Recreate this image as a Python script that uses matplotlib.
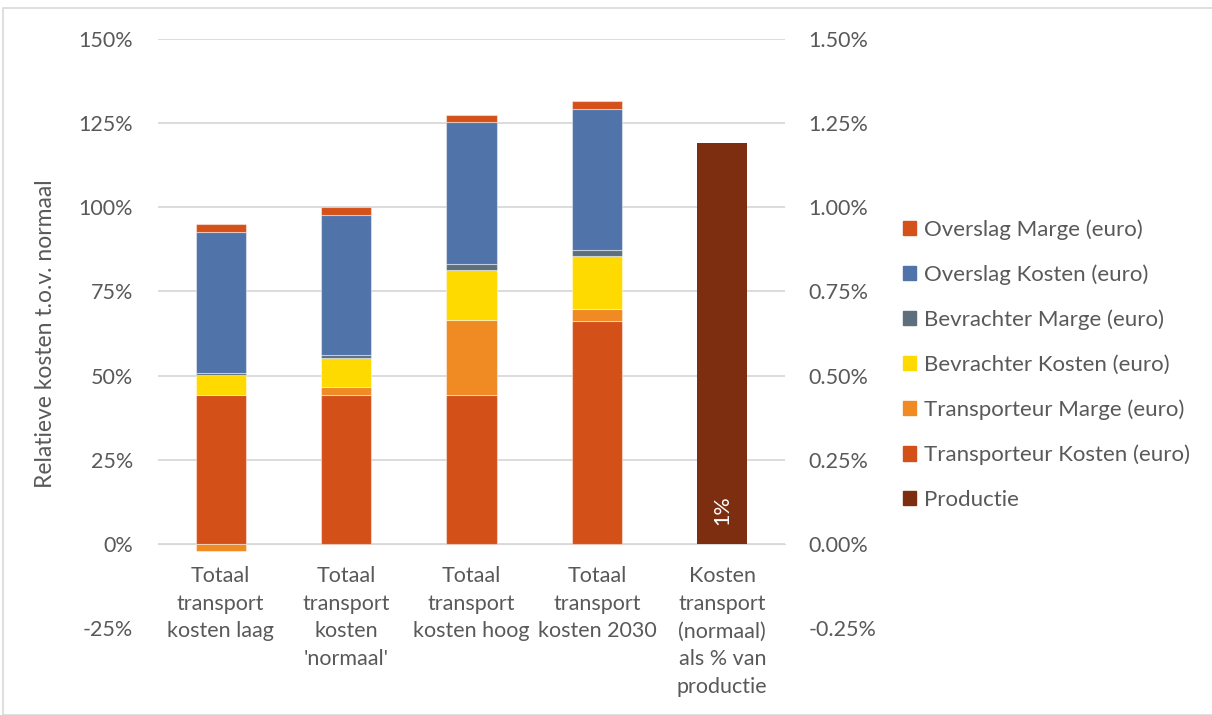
import numpy as np
import matplotlib
matplotlib.use("Agg")
from matplotlib import pyplot as plt
from matplotlib.patches import Patch, Rectangle
from matplotlib.ticker import FuncFormatter

plt.rcParams["font.family"] = ["Lato", "DejaVu Sans"]

categories = ["Totaal\ntransport\nkosten laag",
              "Totaal\ntransport\nkosten\n'normaal'",
              "Totaal\ntransport\nkosten hoog",
              "Totaal\ntransport\nkosten 2030",
              "Kosten\ntransport\n(normaal)\nals % van\nproductie"]

# stacked components (% of 'normaal'), bottom to top
series_names = ["Transporteur Kosten (euro)", "Transporteur Marge (euro)",
                "Bevrachter Kosten (euro)", "Bevrachter Marge (euro)",
                "Overslag Kosten (euro)", "Overslag Marge (euro)"]
transporteur_kosten = [44.3, 44.3, 44.3, 66.2]
transporteur_marge = [-2.1, 2.2, 22.2, 3.6]
bevrachter_kosten = [5.9, 8.6, 14.9, 15.7]
bevrachter_marge = [0.5, 0.9, 1.7, 1.7]
overslag_kosten = [42.1, 41.7, 42.1, 42.1]
overslag_marge = [2.2, 2.3, 2.2, 2.3]

# transport cost as share of production (secondary axis, %)
productie = [1.19]

colors = {"Transporteur Kosten (euro)": "#D45019",
          "Transporteur Marge (euro)": "#F08A22",
          "Bevrachter Kosten (euro)": "#FFDA00",
          "Bevrachter Marge (euro)": "#5D6F7C",
          "Overslag Kosten (euro)": "#5073A9",
          "Overslag Marge (euro)": "#D4511A",
          "Productie": "#7E2E10"}

grey = "#595959"
fs = 15.5

fig = plt.figure(figsize=(12.12, 7.15), dpi=100)
ax = fig.add_axes([158 / 1212, (715 - 628) / 715, (785 - 158) / 1212, (628 - 39) / 715])
ax2 = ax.twinx()

x = np.arange(len(categories))
w = 0.4
data = [transporteur_kosten, transporteur_marge, bevrachter_kosten,
        bevrachter_marge, overslag_kosten, overslag_marge]

# positive and negative parts stack separately
pos_bottom = np.zeros(4)
neg_bottom = np.zeros(4)
for name, vals in zip(series_names, data):
    vals = np.array(vals)
    bottom = np.where(vals >= 0, pos_bottom, neg_bottom)
    ax.bar(x[:4], vals, w, bottom=bottom, color=colors[name],
           edgecolor=(1, 1, 1, 0.45), linewidth=0.8, zorder=3)
    pos_bottom += np.where(vals >= 0, vals, 0)
    neg_bottom += np.where(vals < 0, vals, 0)

bars = ax2.bar(x[4:], productie, w, color=colors["Productie"], zorder=3)
for b, v in zip(bars, productie):
    ax2.text(b.get_x() + b.get_width() / 2, 0.055, f"{v:.0f}%", rotation=90,
             ha="center", va="bottom", color="white", fontsize=fs)

ax.set_xlim(-0.5, 4.5)
ax.set_ylim(-25, 150)
ax2.set_ylim(-0.25, 1.5)
ax.set_yticks(np.arange(-25, 151, 25))
ax2.set_yticks(np.arange(-0.25, 1.51, 0.25))
ax.yaxis.set_major_formatter(FuncFormatter(lambda v, p: f"{v:.0f}%"))
ax2.yaxis.set_major_formatter(FuncFormatter(lambda v, p: f"{v:.2f}%"))

for a in (ax, ax2):
    for s in a.spines.values():
        s.set_visible(False)
    a.tick_params(length=0, labelsize=fs, labelcolor=grey)
ax.tick_params(axis="y", pad=18)
ax2.tick_params(axis="y", pad=17)

# grid lines from 0 upwards only
for v in np.arange(0, 151, 25):
    ax.axhline(v, color="#D9D9D9", linewidth=1.3, zorder=1)

ax.spines["bottom"].set_visible(True)
ax.spines["bottom"].set_position(("data", 0))
ax.spines["bottom"].set_color("#D9D9D9")
ax.set_xticks(x)
ax.set_xticklabels(categories, linespacing=1.48)
ax.tick_params(axis="x", pad=16)

ax.set_ylabel("Relatieve kosten t.o.v. normaal", fontsize=16.5, color=grey, labelpad=16)

handles = [Patch(color=colors[n], label=n) for n in reversed(series_names)]
handles.append(Patch(color=colors["Productie"], label="Productie"))
fig.legend(handles=handles, loc="upper left", bbox_to_anchor=(883 / 1212, 1 - 199 / 715),
           frameon=False, fontsize=16, labelcolor=grey, handlelength=0.6,
           handleheight=0.6, handletextpad=0.35, labelspacing=1.11)

fig.patches.append(Rectangle((3 / 1212, 0), 1.5, 1 - 8 / 715, transform=fig.transFigure,
                             fill=False, edgecolor="#D9D9D9", linewidth=1.2))

fig.savefig("out.png", dpi=100)
